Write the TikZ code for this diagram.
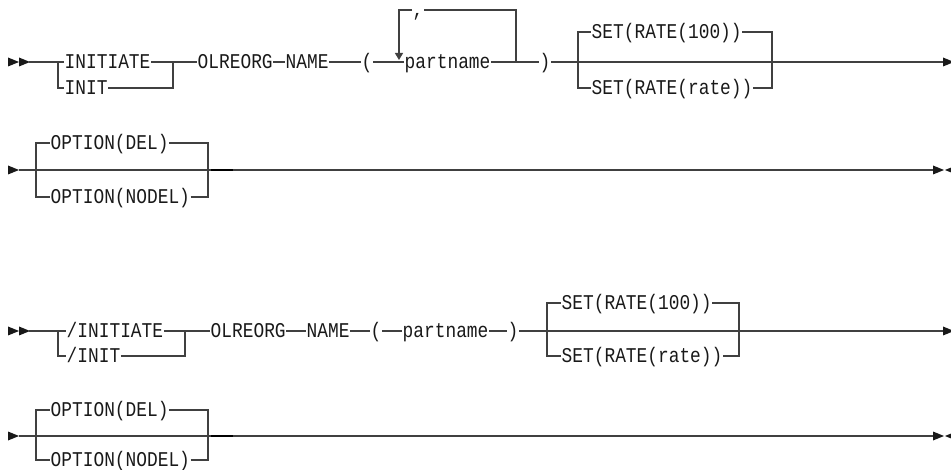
\documentclass[tikz,border=0pt]{standalone}
\usepackage{fontspec}
\newfontfamily\railfont[FakeStretch=0.85]{Liberation Mono}
\usetikzlibrary{arrows.meta}
\newcommand\fwdhead[1]{\fill[head] (#1) ++(0,-4.5) -- ++(11,4.5) -- ++(-11,4.5) -- cycle;}
\newcommand\backhead[1]{\fill[head] (#1) -- ++(11,-4.5) -- ++(0,9) -- cycle;}
\begin{document}
\begin{tikzpicture}[x=1pt,y=-1pt,
    kw/.style={font={\railfont\fontsize{21}{21}\selectfont}, inner xsep=0.5pt, inner ysep=0pt,
               text height=13.9pt, text depth=0pt, anchor=west, text=black!90},
    rail/.style={line width=1.2pt, color=black!75},
    head/.style={fill=black!90}]
\useasboundingbox (0,0) rectangle (951,470);

% first form, line 1
\fwdhead{8,62} \fwdhead{19,62}
\coordinate (s1) at (29,62);
\coordinate (j1) at (58,62);
\coordinate (j2) at (173,62);
\node[kw] (initiate) at (64,62) {INITIATE};
\node[kw] (init) at (64,88) {INIT};
\node[kw] (olreorg) at (197,62) {OLREORG};
\node[kw] (name) at (285,62) {NAME};
\node[kw] (lpar) at (361,62) {(};
\node[kw] (part) at (404,62) {partname};
\node[kw] (comma) at (412,10) {,};
\node[kw] (rpar) at (539,62) {)};
\node[kw] (rate) at (591,32) {SET(RATE(100))};
\node[kw] (ratevar) at (591,88) {SET(RATE(rate))};
\coordinate (lp1) at (399,60);
\coordinate (lp2) at (516,62);
\coordinate (k1) at (578,62);
\coordinate (k2) at (772,62);
\coordinate (e1) at (943,62);
\draw[rail] (s1) -- (initiate.west);
\draw[rail] (j1) |- (init.west);
\draw[rail] (initiate.east) -- (olreorg.west);
\draw[rail] (init.east) -| (j2);
\draw[rail] (olreorg) -- (name);
\draw[rail] (name) -- (lpar);
\draw[rail] (lpar) -- (part);
\draw[rail] (part.east) -- (rpar.west);
\draw[rail,-{Triangle[length=7pt,width=8pt]}] (comma.west) -| (lp1);
\draw[rail] (comma.east) -| (lp2);
\draw[rail] (rpar.east) -- (e1);
\draw[rail] (k1) |- (rate.west);
\draw[rail] (k1) |- (ratevar.west);
\draw[rail] (rate.east) -| (k2);
\draw[rail] (ratevar.east) -| (k2);
\fwdhead{943,62}

% first form, line 2
\fwdhead{8,170}
\coordinate (s2) at (19,170);
\coordinate (o1) at (36,170);
\coordinate (o2) at (208,170);
\coordinate (e2) at (934,170);
\node[kw] (optdel) at (50,143) {OPTION(DEL)};
\node[kw] (optnodel) at (50,197) {OPTION(NODEL)};
\draw[rail] (s2) -- (e2);
\draw[rail] (o1) |- (optdel.west);
\draw[rail] (o1) |- (optnodel.west);
\draw[rail] (optdel.east) -| (o2);
\draw[rail] (optnodel.east) -| (o2);
\draw[rail,line width=2pt,color=black] (o2) ++(3,0) -- ++(22,0);
\fwdhead{933,170} \backhead{945,170}

% second form, line 1
\fwdhead{8,331} \fwdhead{19,331}
\coordinate (s3) at (29,331);
\coordinate (j3) at (58,331);
\coordinate (j4) at (185,331);
\node[kw] (sinitiate) at (66,331) {/INITIATE};
\node[kw] (sinit) at (66,356) {/INIT};
\node[kw] (solreorg) at (210,331) {OLREORG};
\node[kw] (sname) at (306,331) {NAME};
\node[kw] (slpar) at (370,331) {(};
\node[kw] (spart) at (402,331) {partname};
\node[kw] (srpar) at (507,331) {)};
\node[kw] (srate) at (561,303) {SET(RATE(100))};
\node[kw] (sratevar) at (561,356) {SET(RATE(rate))};
\coordinate (k3) at (547,331);
\coordinate (k4) at (739,331);
\coordinate (e3) at (943,331);
\draw[rail] (s3) -- (sinitiate.west);
\draw[rail] (j3) |- (sinit.west);
\draw[rail] (sinitiate.east) -- (solreorg.west);
\draw[rail] (sinit.east) -| (j4);
\draw[rail] (solreorg) -- (sname);
\draw[rail] (sname) -- (slpar);
\draw[rail] (slpar) -- (spart);
\draw[rail] (spart) -- (srpar);
\draw[rail] (srpar.east) -- (e3);
\draw[rail] (k3) |- (srate.west);
\draw[rail] (k3) |- (sratevar.west);
\draw[rail] (srate.east) -| (k4);
\draw[rail] (sratevar.east) -| (k4);
\fwdhead{943,331}

% second form, line 2
\fwdhead{8,436}
\coordinate (s4) at (19,436);
\coordinate (o3) at (36,436);
\coordinate (o4) at (208,436);
\coordinate (e4) at (934,436);
\node[kw] (soptdel) at (50,410) {OPTION(DEL)};
\node[kw] (soptnodel) at (50,460) {OPTION(NODEL)};
\draw[rail] (s4) -- (e4);
\draw[rail] (o3) |- (soptdel.west);
\draw[rail] (o3) |- (soptnodel.west);
\draw[rail] (soptdel.east) -| (o4);
\draw[rail] (soptnodel.east) -| (o4);
\draw[rail,line width=2pt,color=black] (o4) ++(3,0) -- ++(22,0);
\fwdhead{933,436} \backhead{945,436}
\end{tikzpicture}
\end{document}
